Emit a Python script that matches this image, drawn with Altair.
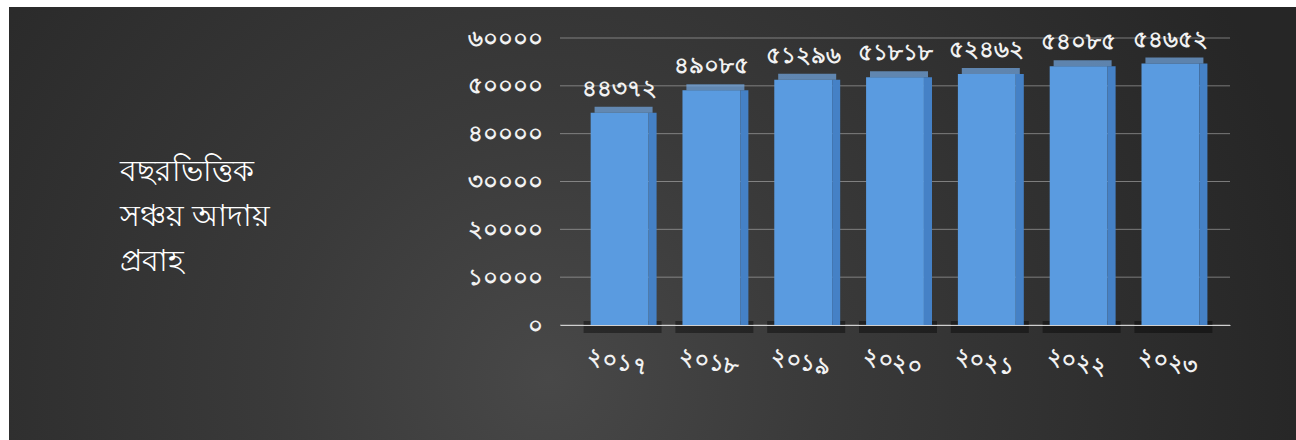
import altair as alt
import pandas as pd

# ---- data ----
years = ["২০১৭", "২০১৮", "২০১৯", "২০২০", "২০২১", "২০২২", "২০২৩"]
values = [44372, 49085, 51296, 51818, 52462, 54085, 54652]
value_labels = ["৪৪৩৭২", "৪৯০৮৫", "৫১২৯৬", "৫১৮১৮", "৫২৪৬২", "৫৪০৮৫", "৫৪৬৫২"]
y_ticks = [0, 10000, 20000, 30000, 40000, 50000, 60000]
y_tick_labels = ["০", "১০০০০", "২০০০০", "৩০০০০", "৪০০০০", "৫০০০০", "৬০০০০"]
title_lines = ["বছরভিত্তিক", "সঞ্চয় আদায়", "প্রবাহ"]

df = pd.DataFrame({"year": years, "value": values, "label": value_labels})
grid_df = pd.DataFrame({"tick": y_ticks})

FONT = "Noto Sans"
TXT = "#f2f2f2"

label_expr = "[" + ",".join("'%s'" % s for s in y_tick_labels) + "][round(datum.value / 10000)]"

x_enc = alt.X(
    "year:N",
    sort=years,
    scale=alt.Scale(paddingInner=0.37, paddingOuter=0.334),
    axis=alt.Axis(
        title=None, labelAngle=12, labelFontSize=23, labelColor=TXT, labelFont=FONT,
        labelPadding=26, ticks=False, domainColor="#d0d0d0", domainWidth=1.2,
        labelAlign="center", labelBaseline="top", zindex=1, labelFontWeight="bold",
    ),
)
y_enc = alt.Y(
    "value:Q",
    scale=alt.Scale(domain=[0, 60000]),
    axis=alt.Axis(
        title=None, values=y_ticks, labelExpr=label_expr, labelFontSize=23,
        labelColor=TXT, labelFont=FONT, labelPadding=18, ticks=False, domain=False,
        grid=False, zindex=1, labelFontWeight="bold",
    ),
)

bg_gradient = alt.RadialGradient(
    gradient="radial",
    x1=0.42, y1=0.62, x2=0.42, y2=0.62, r1=0, r2=0.6,
    stops=[
        alt.GradientStop(color="#484848", offset=0),
        alt.GradientStop(color="#3a3a3a", offset=0.35),
        alt.GradientStop(color="#262626", offset=1),
    ],
)

background = alt.Chart(alt.Data(values=[{}])).mark_rect(fill=bg_gradient).encode(
    x=alt.value(-551), x2=alt.value(736), y=alt.value(-31), y2=alt.value(402)
)

title = alt.Chart(alt.Data(values=[{}])).mark_text(
    align="left", baseline="middle", fontSize=30, lineHeight=45, color="#ffffff", font=FONT
).encode(x=alt.value(-440), y=alt.value(134), text=alt.value(title_lines))

grid = alt.Chart(grid_df).mark_rule(color="#bdbdbd", opacity=0.55, strokeWidth=1).encode(
    y=alt.Y("tick:Q", scale=alt.Scale(domain=[0, 60000])),
)

base = alt.Chart(df)

shadow = base.mark_tick(color="#000000", opacity=0.4, thickness=12, size=78, xOffset=3, yOffset=2).encode(
    x=x_enc, y=alt.datum(0)
)

front = base.mark_bar(color="#5a9be0").encode(x=x_enc, y=y_enc)

side = base.mark_bar(color="#4581c6", width=8, xOffset=33).encode(
    x=x_enc, y="value:Q", y2=alt.datum(0)
)

top = base.mark_tick(color="#74aae6", thickness=6, size=58, xOffset=4, yOffset=-3).encode(
    x=x_enc, y="value:Q"
)

labels = base.mark_text(
    fontSize=23, fontWeight="bold", color=TXT, font=FONT, baseline="bottom", dy=-12
).encode(x=x_enc, y="value:Q", text="label:N")

chart = alt.layer(background, title, grid, shadow, side, front, top, labels).properties(
    width=670,
    height=287,
    padding={"left": 560, "top": 38, "right": 66, "bottom": 115},
    autosize=alt.AutoSizeParams(type="none"),
    background="#ffffff",
).configure_view(stroke=None)

chart.save("out.html", embed_options={"renderer": "svg", "actions": False})
